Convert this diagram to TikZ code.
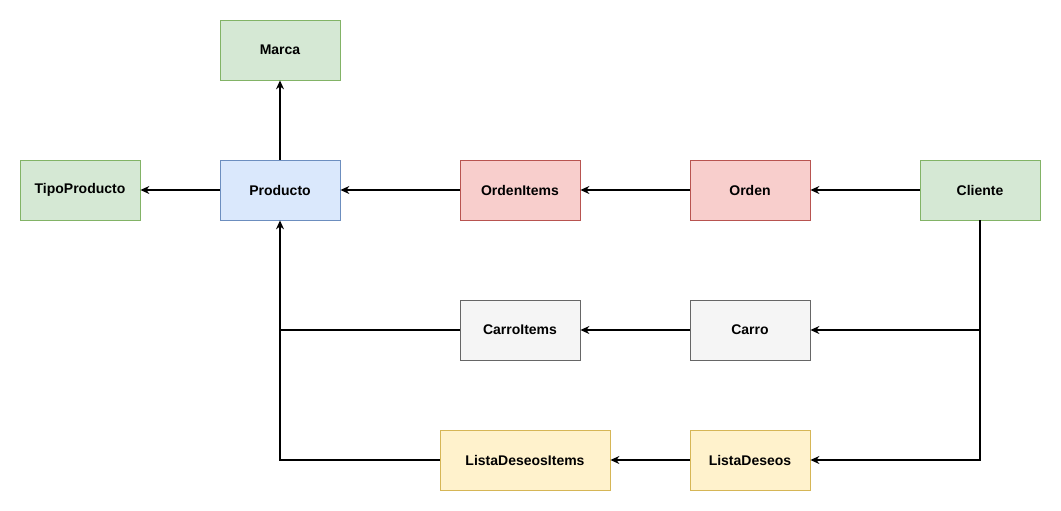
\documentclass[tikz,border=0pt]{standalone}
\usepackage{fontspec}
\setmainfont{Liberation Sans}
\usetikzlibrary{arrows.meta}
\definecolor{gfill}{HTML}{D5E8D4}\definecolor{gdraw}{HTML}{82B366}
\definecolor{bfill}{HTML}{DAE8FC}\definecolor{bdraw}{HTML}{6C8EBF}
\definecolor{rfill}{HTML}{F8CECC}\definecolor{rdraw}{HTML}{B85450}
\definecolor{sfill}{HTML}{F5F5F5}\definecolor{sdraw}{HTML}{666666}
\definecolor{yfill}{HTML}{FFF2CC}\definecolor{ydraw}{HTML}{D6B656}
\tikzset{
  box/.style={draw, rectangle, minimum width=120pt, minimum height=60pt, inner sep=0pt, font=\fontsize{14}{16}\selectfont\bfseries, line width=0.8pt},
  greenbox/.style={box, fill=gfill, draw=gdraw},
  bluebox/.style={box, fill=bfill, draw=bdraw},
  redbox/.style={box, fill=rfill, draw=rdraw},
  graybox/.style={box, fill=sfill, draw=sdraw},
  yellowbox/.style={box, fill=yfill, draw=ydraw},
  conn/.style={line width=1.1pt, -{Stealth[length=9pt,width=8pt,inset=3pt]}},
  line/.style={line width=1.1pt}
}
\begin{document}
\begin{tikzpicture}[x=1pt,y=-1pt]
\useasboundingbox (0,0) rectangle (1061,511);
\node[greenbox] (marca) at (280,50) {Marca};
\node[greenbox] (tipo) at (80,190) {TipoProducto};
\node[bluebox] (prod) at (280,190) {Producto};
\node[redbox] (oi) at (520,190) {OrdenItems};
\node[redbox] (orden) at (750,190) {Orden};
\node[greenbox] (cli) at (980,190) {Cliente};
\node[graybox] (ci) at (520,330) {CarroItems};
\node[graybox] (carro) at (750,330) {Carro};
\node[yellowbox, minimum width=170pt] (ldi) at (525,460) {ListaDeseosItems};
\node[yellowbox] (ld) at (750,460) {ListaDeseos};
\coordinate (j1) at (980,330);
\coordinate (j2) at (280,330);
\draw[conn] (prod) -- (marca);
\draw[conn] (prod) -- (tipo);
\draw[conn] (oi) -- (prod);
\draw[conn] (orden) -- (oi);
\draw[conn] (cli) -- (orden);
\draw[conn] (cli.south) |- (ld);
\draw[conn] (j1) -- (carro);
\draw[conn] (carro) -- (ci);
\draw[conn] (ld) -- (ldi);
\draw[conn] (ldi.west) -| (prod.south);
\draw[line] (ci.west) -- (j2);
\end{tikzpicture}
\end{document}
